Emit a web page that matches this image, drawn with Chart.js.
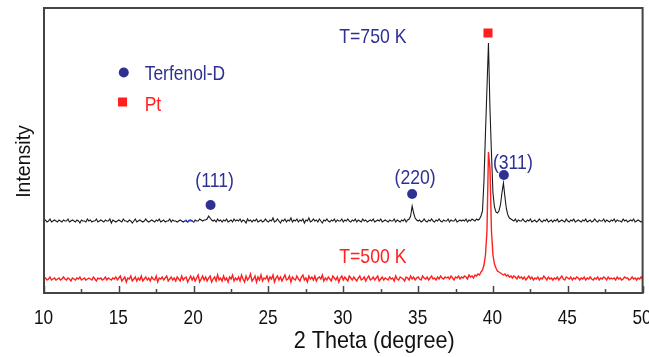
<!DOCTYPE html>
<html lang="en">
<head>
  <meta charset="UTF-8">
  <title>XRD pattern</title>
  <script src="https://cdn.jsdelivr.net/npm/chart.js"></script>
  <style>
    body { margin: 0; background: #fff; }
  </style>
</head>
<body>
  <canvas id="chart" width="649" height="357"></canvas>

  <script>
    // scan grid: 10 -> 50 deg, 0.1 deg step
    const startAngle = 10;
    const angleStep = 0.1;

    // T=750 K scan (one row per degree: x.0 ... x.9)
    const counts750 = [
      72,73,71,72,74,71,72,73,72,71,   // 10
      73,72,71,73,72,72,74,71,72,73,   // 11
      72,71,73,72,70,73,72,72,71,74,   // 12
      72,73,71,72,72,74,71,72,73,72,   // 13
      71,73,72,72,74,70,73,72,71,72,   // 14
      73,72,71,74,72,72,71,73,72,70,   // 15
      72,74,71,72,73,72,71,72,74,72,   // 16
      71,72,73,72,71,73,72,74,71,72,   // 17
      73,71,72,72,74,71,73,72,72,71,   // 18
      72,73,72,71,72,72,71,72,73,72,   // 19
      71,73,72,72,74,73,72,73,73,74,   // 20
      77,75,73,72,73,71,74,72,73,71,   // 21
      73,72,74,71,72,73,71,74,72,73,   // 22
      72,74,71,73,72,70,74,72,73,71,   // 23
      73,72,74,71,72,73,71,72,74,72,   // 24
      71,73,72,75,71,72,74,72,70,73,   // 25
      72,74,71,73,72,75,71,73,72,74,   // 26
      71,73,72,74,70,73,72,75,71,72,   // 27
      74,72,73,71,74,72,70,73,72,74,   // 28
      72,71,73,72,74,71,73,72,72,74,   // 29
      71,73,72,74,72,71,73,72,74,71,   // 30
      73,72,71,74,72,73,71,72,73,72,   // 31
      74,71,72,73,72,74,71,72,73,72,   // 32
      71,73,72,72,74,71,73,72,71,73,   // 33
      72,74,71,73,74,77,87,80,75,73,   // 34
      72,73,71,72,74,72,71,73,72,74,   // 35
      72,71,73,72,74,72,71,73,72,72,   // 36
      74,71,73,72,72,74,71,72,73,72,   // 37
      73,72,74,71,73,72,74,73,72,74,   // 38
      73,74,77,82,112,160,205,250,185,140, // 39
      100,86,81,80,82,88,100,110,96,84,    // 40
      78,75,74,73,72,74,71,73,72,72,   // 41
      74,72,71,73,72,74,71,72,73,71,   // 42
      72,74,72,71,73,72,74,71,72,73,   // 43
      71,73,72,74,71,72,73,72,71,74,   // 44
      72,71,73,72,74,71,72,73,72,71,   // 45
      73,72,74,71,72,73,71,72,74,72,   // 46
      71,73,72,72,74,71,73,72,71,73,   // 47
      72,74,71,73,72,72,71,74,72,73,   // 48
      71,72,73,72,74,71,72,73,72,71,   // 49
      72                               // 50
    ];

    // T=500 K scan
    const counts500 = [
      14,15,13,14,16,13,14,15,13,14,   // 10
      15,13,14,16,14,13,15,14,12,15,   // 11
      14,13,15,14,16,13,14,15,13,14,   // 12
      15,14,13,16,14,12,15,14,15,13,   // 13
      14,16,13,15,14,13,15,14,16,13,   // 14
      15,17,12,14,16,11,15,14,17,12,   // 15
      14,16,12,15,13,17,12,14,16,13,   // 16
      15,12,16,14,13,17,11,15,14,16,   // 17
      13,15,17,12,14,16,13,15,12,16,   // 18
      14,12,17,13,15,16,11,14,17,13,   // 19
      16,12,15,18,11,14,17,13,16,12,   // 20
      15,17,11,14,16,12,18,13,15,12,   // 21
      17,13,15,11,16,14,18,12,15,13,   // 22
      16,12,18,14,11,17,13,15,19,12,   // 23
      14,17,11,16,13,18,12,15,14,17,   // 24
      12,16,14,18,11,15,17,13,16,12,   // 25
      15,18,13,14,17,11,16,14,13,17,   // 26
      14,12,16,18,13,15,11,17,14,16,   // 27
      13,17,12,15,16,14,18,12,15,13,   // 28
      16,14,12,17,15,13,16,11,15,17,   // 29
      13,16,14,12,17,15,13,16,14,12,   // 30
      15,17,13,14,16,12,15,17,13,14,   // 31
      16,13,15,17,12,14,16,13,15,14,   // 32
      13,16,14,15,12,17,14,13,16,15,   // 33
      14,12,16,15,13,17,14,16,13,15,   // 34
      16,14,13,17,15,14,16,13,15,17,   // 35
      14,15,13,16,14,17,15,14,16,15,   // 36
      16,14,17,15,13,16,15,17,14,16,   // 37
      15,17,16,14,18,16,17,15,18,17,   // 38
      19,18,21,23,28,38,62,141,125,62, // 39
      38,29,25,22,21,20,19,18,19,17,   // 40
      18,16,17,15,17,16,14,17,15,16,   // 41
      14,16,13,15,17,14,16,13,15,14,   // 42
      16,13,15,14,17,15,13,16,14,15,   // 43
      13,15,14,16,13,15,17,14,13,16,   // 44
      15,14,16,13,15,14,16,15,13,15,   // 45
      14,16,13,15,14,16,14,13,15,14,   // 46
      16,13,15,14,16,15,13,16,14,15,   // 47
      14,15,13,16,14,15,13,14,16,15,   // 48
      15,13,14,16,14,15,13,15,14,16,   // 49
      14                               // 50
    ];

    // short blue stretch on the 750 K baseline
    const blueAngles = [19.4, 19.5, 19.6, 19.7, 19.8, 19.9, 20.0, 20.1];
    const blueCounts = [72, 73, 71, 73, 72, 72, 71, 72];

    // phase markers
    const terfenolAngles = [21.13, 34.6, 40.73];
    const terfenolLevels = [88, 99, 118];
    const ptAngles = [39.67];
    const ptLevels = [260];

    // legend
    const legendAngle = 15.33;
    const legendLevels = [221, 190];
    const legendLabels = ['Terfenol-D', 'Pt'];
    const legendTextAngle = 16.73;

    // peak labels
    const peakLabels = ['(111)', '(220)', '(311)'];
    const peakLabelAngles = [21.4, 34.8, 41.33];
    const peakLabelLevels = [114, 117, 132];

    const tempLabels = ['T=750 K', 'T=500 K'];
    const tempLabelAngle = 29.73;
    const tempLabelLevels = [258, 38];

    const majorTicks = [10, 15, 20, 25, 30, 35, 40, 45, 50];
    const minorTicks = [12.5, 17.5, 22.5, 27.5, 32.5, 37.5, 42.5, 47.5];

    const BLUE = '#2e3192';
    const RED = '#ff1f1f';
    const FONT = '"Liberation Sans", Arial, sans-serif';

    const toPoints = arr => arr.map((v, i) => ({ x: startAngle + i * angleStep, y: v }));
    const zipPoints = (xs, ys) => xs.map((x, i) => ({ x: x, y: ys[i] }));

    // y is the middle of the capitals; text is squeezed horizontally like the original
    function drawText(ctx, str, x, y, size, color, align, squeeze) {
      ctx.save();
      ctx.translate(x, y + 0.358 * size);
      ctx.scale(squeeze, 1);
      ctx.font = size + 'px ' + FONT;
      ctx.fillStyle = color;
      ctx.textAlign = align;
      ctx.textBaseline = 'alphabetic';
      ctx.fillText(str, 0, 0);
      ctx.restore();
    }

    // frame, inward ticks and all the text
    const decorPlugin = {
      id: 'decor',
      afterDraw(chart) {
        const ctx = chart.ctx;
        const a = chart.chartArea;
        const xs = chart.scales.x;
        const ys = chart.scales.y;

        ctx.save();
        ctx.strokeStyle = '#444';
        ctx.lineWidth = 1.5;
        majorTicks.forEach(t => {
          const px = Math.round(xs.getPixelForValue(t)) + 0.5;
          ctx.beginPath(); ctx.moveTo(px, a.bottom); ctx.lineTo(px, a.bottom - 7); ctx.stroke();
        });
        minorTicks.forEach(t => {
          const px = Math.round(xs.getPixelForValue(t)) + 0.5;
          ctx.beginPath(); ctx.moveTo(px, a.bottom); ctx.lineTo(px, a.bottom - 4); ctx.stroke();
        });
        ctx.lineWidth = 2;
        ctx.strokeRect(a.left, a.top, a.right - a.left, a.bottom - a.top);
        ctx.restore();

        majorTicks.forEach(t => {
          drawText(ctx, String(t), xs.getPixelForValue(t) - 0.5, a.bottom + 23.5, 21, '#111', 'center', 0.82);
        });
        drawText(ctx, '2 Theta (degree)', xs.getPixelForValue(32.07), a.bottom + 46.5, 24, '#111', 'center', 0.9);

        ctx.save();
        ctx.translate(22.5 + 0.358 * 21, 161.5);
        ctx.rotate(-Math.PI / 2);
        ctx.scale(0.93, 1);
        ctx.font = '21px ' + FONT;
        ctx.fillStyle = '#111';
        ctx.textAlign = 'center';
        ctx.textBaseline = 'alphabetic';
        ctx.fillText('Intensity', 0, 0);
        ctx.restore();

        peakLabels.forEach((s, i) => {
          drawText(ctx, s, xs.getPixelForValue(peakLabelAngles[i]), ys.getPixelForValue(peakLabelLevels[i]), 21, BLUE, 'center', 0.84);
        });
        drawText(ctx, tempLabels[0], xs.getPixelForValue(tempLabelAngle), ys.getPixelForValue(tempLabelLevels[0]), 21, BLUE, 'left', 0.84);
        drawText(ctx, tempLabels[1], xs.getPixelForValue(tempLabelAngle), ys.getPixelForValue(tempLabelLevels[1]), 21, RED, 'left', 0.84);
        drawText(ctx, legendLabels[0], xs.getPixelForValue(legendTextAngle), ys.getPixelForValue(legendLevels[0]), 21, BLUE, 'left', 0.83);
        drawText(ctx, legendLabels[1], xs.getPixelForValue(legendTextAngle), ys.getPixelForValue(legendLevels[1]), 21, RED, 'left', 0.83);
      }
    };

    const ctx = document.getElementById('chart').getContext('2d');

    new Chart(ctx, {
      type: 'line',
      data: {
        datasets: [
          {
            data: toPoints(counts750),
            borderColor: '#1a1a1a',
            borderWidth: 1.1,
            pointRadius: 0,
            order: 3
          },
          {
            data: zipPoints(blueAngles, blueCounts),
            borderColor: '#3a44d8',
            borderWidth: 1.2,
            pointRadius: 0,
            order: 2
          },
          {
            data: toPoints(counts500),
            borderColor: RED,
            borderWidth: 1.4,
            pointRadius: 0,
            order: 1
          },
          {
            data: zipPoints(terfenolAngles, terfenolLevels).concat([{ x: legendAngle, y: 220.5 }]),
            showLine: false,
            pointStyle: 'circle',
            pointRadius: 5,
            backgroundColor: BLUE,
            borderWidth: 0,
            order: 0
          },
          {
            data: zipPoints(ptAngles, ptLevels).concat([{ x: legendAngle - 0.08, y: 191 }]),
            showLine: false,
            pointStyle: 'rect',
            pointRadius: 6.4,
            backgroundColor: RED,
            borderWidth: 0,
            order: 0
          }
        ]
      },
      options: {
        responsive: false,
        animation: false,
        layout: { padding: { left: 44, right: 5, top: 8, bottom: 64 } },
        plugins: {
          legend: { display: false },
          tooltip: { enabled: false }
        },
        scales: {
          x: { type: 'linear', min: 10, max: 50, display: false },
          y: { min: 0, max: 285, display: false }
        }
      },
      plugins: [decorPlugin]
    });
  </script>
</body>
</html>
